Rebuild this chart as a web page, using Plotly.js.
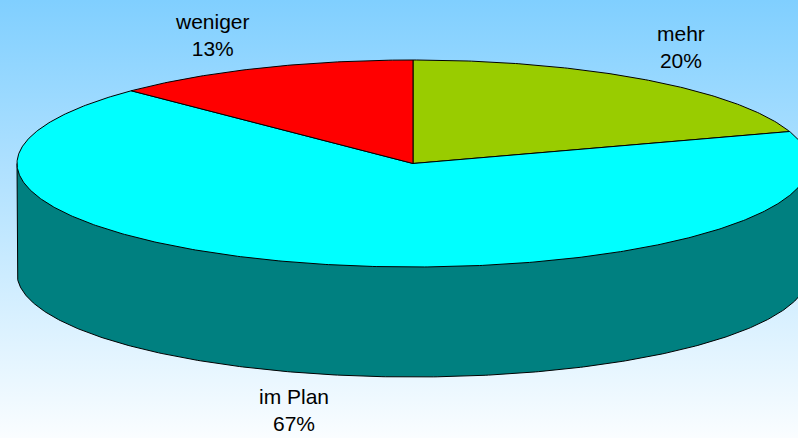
<!DOCTYPE html>
<html>
<head>
<meta charset="utf-8">
<script src="https://cdn.plot.ly/plotly-3.0.1.min.js"></script>
<style>
html,body{margin:0;padding:0;width:798px;height:438px;overflow:hidden;background:linear-gradient(to bottom,#80cfff 0%,#fafdff 100%);}
#chart{width:798px;height:438px;}
</style>
</head>
<body>
<div id="chart"></div>
<script>
var categories = ["mehr", "im Plan", "weniger"];
var shares = [20, 67.4, 12.6];
var sliceColors = ["#99cc00", "#00ffff", "#ff0000"];
var wallColor = "#008080";

// view: scale of the tilted disc on the plot axes
var cx = 413, cy = 163.5, rx = 396, ry = 103.5, depth = 110;
var labelAnchors = [[681, 47], [293.5, 410], [212.5, 35]];

function px(a){ return cx + rx * Math.sin(a); }
function py(a, d){ return cy - ry * Math.cos(a) + (d || 0); }
function deg(a){ return a * Math.PI / 180; }

var traces = [];

// side wall: front half of the disc, pushed down by depth
var wx = [cx - rx], wy = [cy];
for (var i = 0; i <= 360; i++) {
  var a = deg(270 - i / 2);
  wx.push(px(a)); wy.push(py(a, depth));
}
wx.push(cx + rx); wy.push(cy);
traces.push({type:"scatter", mode:"lines", x:wx, y:wy, fill:"toself", fillcolor:wallColor,
  line:{color:"#000", width:1}, hoverinfo:"skip", showlegend:false});

// top slices, clockwise from twelve o'clock
var total = shares.reduce(function(s,v){return s+v;},0), start = 0;
shares.forEach(function(v, k){
  var end = start + v / total * 360;
  var xs = [cx], ys = [cy];
  var n = Math.max(2, Math.ceil((end - start) * 2));
  for (var j = 0; j <= n; j++) {
    var t = deg(start + (end - start) * j / n);
    xs.push(px(t)); ys.push(py(t));
  }
  xs.push(cx); ys.push(cy);
  traces.push({type:"scatter", mode:"lines", x:xs, y:ys, fill:"toself", fillcolor:sliceColors[k],
    line:{color:"#000", width:1}, name:categories[k], hoverinfo:"name", showlegend:false});
  start = end;
});

var annotations = categories.map(function(c, k){
  return {x:labelAnchors[k][0], y:labelAnchors[k][1], xref:"x", yref:"y", showarrow:false,
    text:c + "<br>" + Math.round(shares[k]) + "%", align:"center", xanchor:"center", yanchor:"middle",
    font:{family:"Liberation Sans, Arial, sans-serif", size:21, color:"#000"}};
});

var layout = {
  width:798, height:438, margin:{l:0,r:0,t:0,b:0},
  paper_bgcolor:"rgba(0,0,0,0)", plot_bgcolor:"rgba(0,0,0,0)",
  xaxis:{range:[0,798], visible:false, fixedrange:true},
  yaxis:{range:[438,0], visible:false, fixedrange:true},
  annotations:annotations, showlegend:false
};
Plotly.newPlot("chart", traces, layout, {displayModeBar:false, staticPlot:true});
</script>
</body>
</html>
